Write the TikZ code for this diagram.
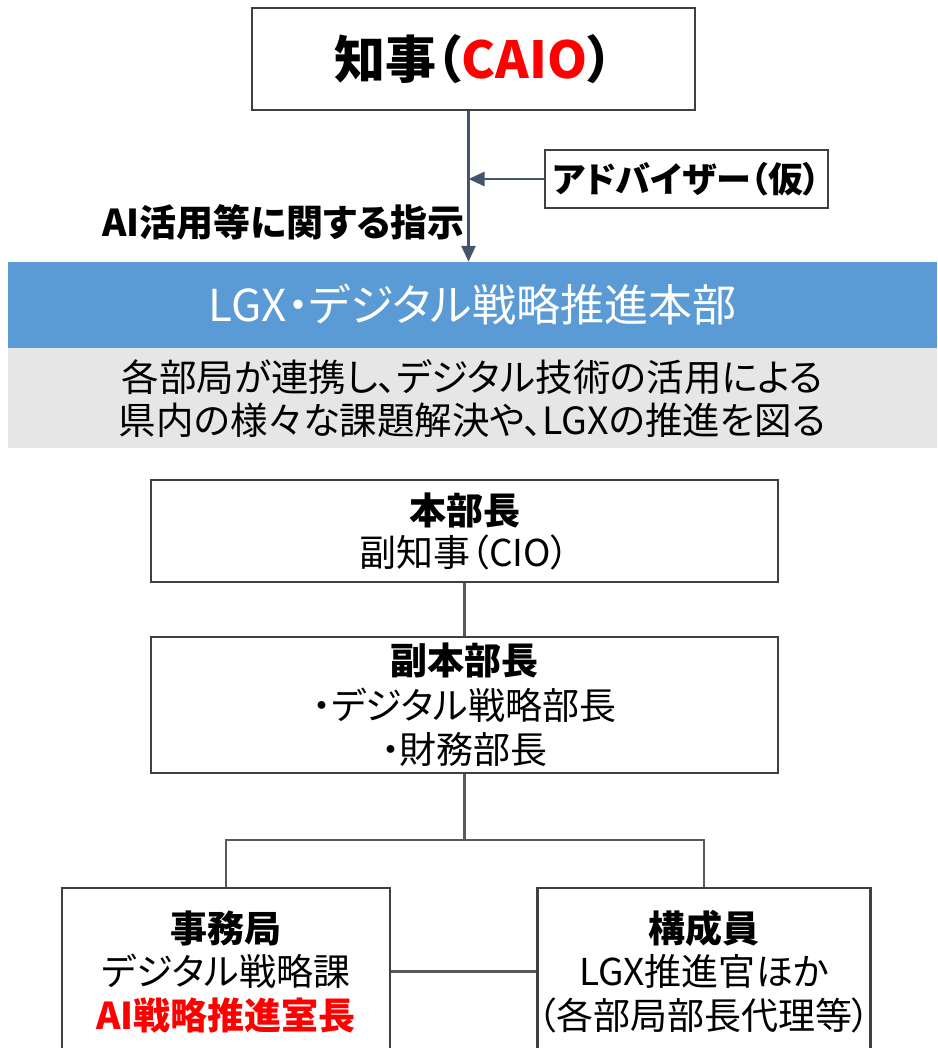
\documentclass[tikz,border=0pt]{standalone}
\usepackage{fontspec}
\setmainfont[RawFeature=+palt]{Noto Sans CJK JP}
\usetikzlibrary{arrows.meta}

\definecolor{bandblue}{HTML}{5B9BD5}
\definecolor{bandgrey}{HTML}{E7E6E6}
\definecolor{boxline}{HTML}{404040}
\definecolor{linkline}{HTML}{595959}
\definecolor{cmdline}{HTML}{44546A}

\tikzset{
  orgbox/.style={draw=boxline, line width=2.5pt, fill=white, align=center, inner sep=0pt,
    font=\fontsize{37}{43.5}\selectfont},
  link/.style={draw=linkline, line width=2.5pt},
  cmd/.style={draw=cmdline, line width=2.5pt, -{Triangle[length=16pt,width=14pt]}},
}

\begin{document}
\begin{tikzpicture}[x=1pt,y=-1pt]
  \useasboundingbox (0,0) rectangle (937,1048);
  % top
  \node[orgbox, minimum width=443pt, minimum height=102pt, font=\fontsize{51}{56}\selectfont\bfseries] (gov) at (473.5,59)
    {知事（\textcolor{red}{CAIO}）};
  \node[orgbox, minimum width=283pt, minimum height=58pt, font=\fontsize{35}{40}\selectfont\bfseries] (adv) at (686.5,179)
    {アドバイザー（仮）};
  % headquarters
  \node[fill=bandblue, minimum width=929pt, minimum height=86pt, inner sep=0pt, text=white,
    font=\fontsize{44}{50}\selectfont] (hq) at (472.5,305)
    {LGX・デジタル戦略推進本部};
  \node[fill=bandgrey, minimum width=929pt, minimum height=100pt, inner sep=0pt, align=center, anchor=north,
    font=\fontsize{37.5}{43}\selectfont] (aim) at (hq.south)
    {各部局が連携し、デジタル技術の活用による\\ 県内の様々な課題解決や、LGXの推進を図る};
  \coordinate (tap) at ([xshift=-5pt]gov.south);
  \draw[cmd] (tap) -- (tap |- hq.north);
  \draw[cmd] (adv.west) -- (adv.west -| tap);
  \node[anchor=east, inner sep=0pt, font=\fontsize{37}{42}\selectfont\bfseries] (order) at (465,222)
    {AI活用等に関する指示};
  % members
  \node[orgbox, minimum width=627pt, minimum height=102pt, font=\fontsize{37}{42}\selectfont] (chief) at (464.5,531)
    {\bfseries 本部長\\ 副知事（CIO）};
  \node[orgbox, minimum width=627pt, minimum height=136pt, font=\fontsize{37}{44.5}\selectfont] (vice) at (464.5,705)
    {\bfseries 副本部長\\ ・デジタル戦略部長\\ ・財務部長};
  \node[orgbox, minimum width=328pt, minimum height=167pt] (office) at (226,971.5)
    {\bfseries 事務局\\ デジタル戦略課\\ \bfseries\color{red} AI戦略推進室長};
  \node[orgbox, minimum width=328pt, minimum height=167pt] (member) at (704,971.5)
    {\bfseries 構成員\\ LGX推進官ほか\\ （各部局部長代理等）};
  \coordinate (split) at (464.5,840);
  \draw[link] (chief) -- (vice);
  \draw[link] (vice) -- (split);
  \draw[link] (office.north) |- (split) -| (member.north);
  \draw[link] (office) -- (member);
\end{tikzpicture}
\end{document}
